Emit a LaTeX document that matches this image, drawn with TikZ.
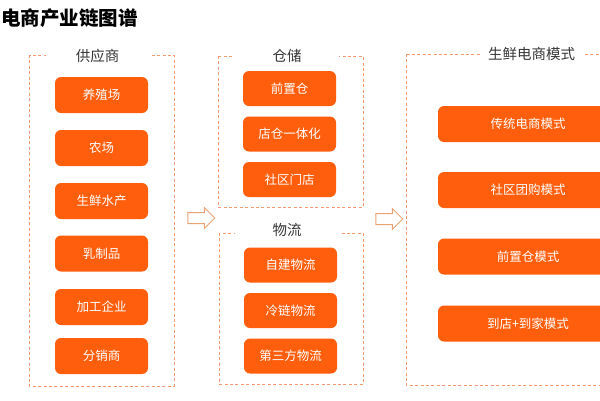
\documentclass[tikz,border=0pt]{standalone}
\usepackage{fontspec}
\setmainfont{Noto Sans CJK SC}
\usetikzlibrary{shapes.arrows}
\definecolor{chainorange}{RGB}{255,94,12}
\definecolor{framepeach}{RGB}{243,152,112}
\definecolor{arrowtan}{RGB}{233,163,115}
\definecolor{labelgray}{RGB}{55,55,55}
\begin{document}
\begin{tikzpicture}[
          x=1pt, y=-1pt,
          item/.style={
            fill=chainorange, rounded corners=6pt, text=white,
            minimum width=93pt, minimum height=36pt,
            font=\fontsize{12.5}{14}\selectfont, inner sep=2pt, anchor=center
          },
          wideitem/.style={item, minimum width=180pt},
          frame/.style={draw=framepeach, line width=0.9pt, dash pattern=on 3pt off 2.4pt},
          grouptitle/.style={fill=white, text=labelgray, minimum width=104pt,
            inner sep=1pt, font=\fontsize{14.5}{16}\selectfont},
          flow/.style={single arrow, draw=arrowtan, line width=1pt,
            inner xsep=0pt, inner ysep=5pt, minimum height=27pt,
            single arrow head extend=5pt},
        ]
          \clip (0,0) rectangle (600,400);
          \useasboundingbox (0,0) rectangle (600,400);

          % Title
          \node[anchor=west, inner sep=0pt, text=black,
                font=\fontsize{19.5}{22}\selectfont\bfseries] (title) at (1,18) {电商产业链图谱};

          % Supplier group
          \draw[frame] (29,55) rectangle (174,386);
          \node[grouptitle] (supply) at (97.5,56) {供应商};
          \node[item] (s1) at (101.5,95) {养殖场};
          \node[item] (s2) at (101.5,148) {农场};
          \node[item] (s3) at (101.5,201) {生鲜水产};
          \node[item] (s4) at (101.5,253.5) {乳制品};
          \node[item] (s5) at (101.5,307) {加工企业};
          \node[item] (s6) at (101.5,356) {分销商};

          % Warehouse group
          \draw[frame] (218,56) rectangle (363,207);
          \node[grouptitle] (store) at (287,56) {仓储};
          \node[item, minimum height=35pt] (w1) at (289.5,88.5) {前置仓};
          \node[item, minimum height=35pt] (w2) at (289.5,134) {店仓一体化};
          \node[item, minimum height=35pt] (w3) at (289.5,179.5) {社区门店};

          % Logistics group
          \draw[frame] (219,233) rectangle (363,384);
          \node[grouptitle] (logi) at (287,230) {物流};
          \node[item, minimum height=35pt] (l1) at (290.5,265) {自建物流};
          \node[item, minimum height=35pt] (l2) at (290.5,310.5) {冷链物流};
          \node[item, minimum height=35pt] (l3) at (290.5,356) {第三方物流};

          % Fresh e-commerce modes
          \draw[frame] (406,54) rectangle (660,385);
          \node[grouptitle] (modes) at (531.5,54) {生鲜电商模式};
          \node[wideitem] (m1) at (528,124) {传统电商模式};
          \node[wideitem] (m2) at (528,190) {社区团购模式};
          \node[wideitem] (m3) at (528,256.5) {前置仓模式};
          \node[wideitem] (m4) at (528,323.5) {到店+到家模式};

          % Flow arrows
          \node[flow] (f1) at (198.5,218) {};
          \node[flow] (f2) at (386.5,219) {};
        \end{tikzpicture}
\end{document}
